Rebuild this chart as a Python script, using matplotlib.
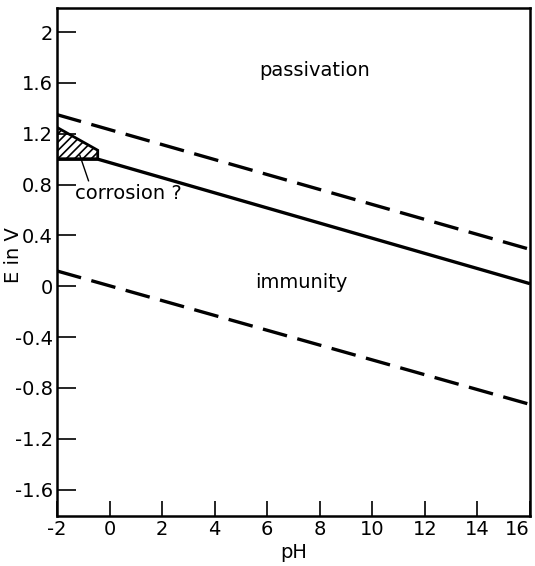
import numpy as np
import matplotlib
matplotlib.use("Agg")
import matplotlib.pyplot as plt
from matplotlib.patches import Polygon

plt.rcParams['font.family'] = ['DejaVu Sans']
plt.rcParams['axes.unicode_minus'] = False
plt.rcParams['hatch.linewidth'] = 1.2

# boundary lines (pH, E in V)
upper_ph = [-2, 16]
upper_e = [1.35, 0.29]
lower_ph = [-2, 16]
lower_e = [0.12, -0.93]
solid_ph = [-2, -0.45, 16]
solid_e = [1.0, 1.0, 0.02]

# corrosion region outline
corr_ph = [-2, -2, -0.45, -0.45]
corr_e = [1.0, 1.25, 1.07, 1.0]

xticks = [-2, 0, 2, 4, 6, 8, 10, 12, 14, 16]
xlabels = ['-2', '0', '2', '4', '6', '8', '10', '12', '14', '16']
yticks = [-1.6, -1.2, -0.8, -0.4, 0, 0.4, 0.8, 1.2, 1.6, 2]
ylabels = ['-1.6', '-1.2', '-0.8', '-0.4', '0', '0.4', '0.8', '1.2', '1.6', '2']

fig = plt.figure(figsize=(5.35, 5.66), dpi=100)
ax = fig.add_axes([0.1065, 0.088, 0.884, 0.898])

dash = (0, (7.5, 3.2))
ax.plot(upper_ph, upper_e, color='black', lw=2.4, ls=dash, dash_capstyle='butt')
ax.plot(lower_ph, lower_e, color='black', lw=2.4, ls=dash, dash_capstyle='butt')
ax.plot(solid_ph, solid_e, color='black', lw=2.4, solid_capstyle='butt')

poly = Polygon(np.column_stack([corr_ph, corr_e]), closed=True, facecolor='white',
               edgecolor='black', lw=2.0, hatch='////')
ax.add_patch(poly)

ax.text(7.8, 1.70, 'passivation', fontsize=14, ha='center', va='center')
ax.text(7.3, 0.03, 'immunity', fontsize=14, ha='center', va='center')
ax.text(-1.3, 0.73, 'corrosion ?', fontsize=14, ha='left', va='center')
ax.plot([-1.13, -0.8], [1.03, 0.83], color='black', lw=1.0)

ax.set_xlim(-2, 16)
ax.set_ylim(-1.81, 2.19)
ax.set_xticks(xticks)
ax.set_xticklabels(xlabels)
ax.set_yticks(yticks)
ax.set_yticklabels(ylabels)
ax.tick_params(direction='in', length=11, width=1.2, labelsize=14, pad=3, color='black')
ax.tick_params(axis='y', length=14)
ax.get_xticklabels()[-1].set_horizontalalignment('right')
for s in ax.spines.values():
    s.set_linewidth(1.8)

ax.set_xlabel('pH', fontsize=14)
ax.set_ylabel('E in V', fontsize=14)
ax.xaxis.set_label_coords(0.5, -0.052)
ax.yaxis.set_label_coords(-0.072, 0.514)

fig.savefig('out.png', dpi=100)
